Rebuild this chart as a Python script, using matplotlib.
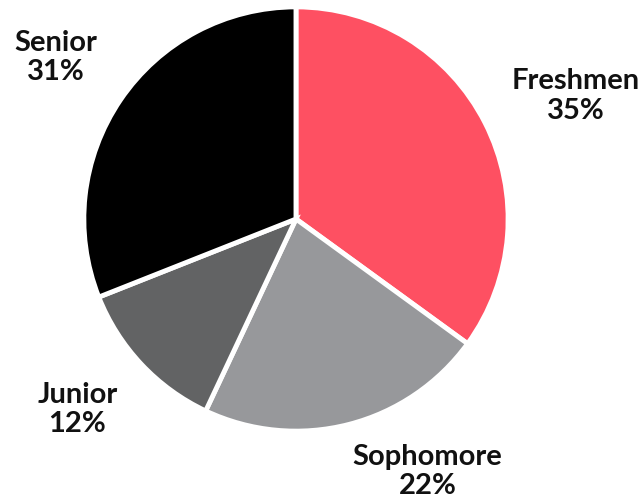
import matplotlib
matplotlib.use("Agg")
import matplotlib.pyplot as plt

classes = ["Freshmen", "Sophomore", "Junior", "Senior"]
shares = [35, 22, 12, 31]
colors = ["#FE5062", "#97989B", "#626364", "#000000"]

# label anchor points in data units (pie radius = 1)
label_xy = [(1.32, 0.58), (0.62, -1.19), (-1.03, -0.90), (-1.13, 0.76)]

fig = plt.figure(figsize=(6.44, 5.03), dpi=100)
ax = fig.add_axes([0.1335, 0.1471, 0.6522, 0.835])
ax.pie(shares, colors=colors, startangle=90, counterclock=False, radius=1,
       wedgeprops=dict(edgecolor="white", linewidth=3.5))
ax.set_xlim(-0.99, 0.99)
ax.set_ylim(-0.99, 0.99)
ax.set_aspect("equal")
ax.axis("off")

for name, pct, (x, y) in zip(classes, shares, label_xy):
    ax.text(x, y, f"{name}\n{pct}%", ha="center", va="center",
            fontsize=21, fontweight="bold", family="Lato", linespacing=1.15,
            color="#111111")

fig.savefig("out.png", dpi=100)
